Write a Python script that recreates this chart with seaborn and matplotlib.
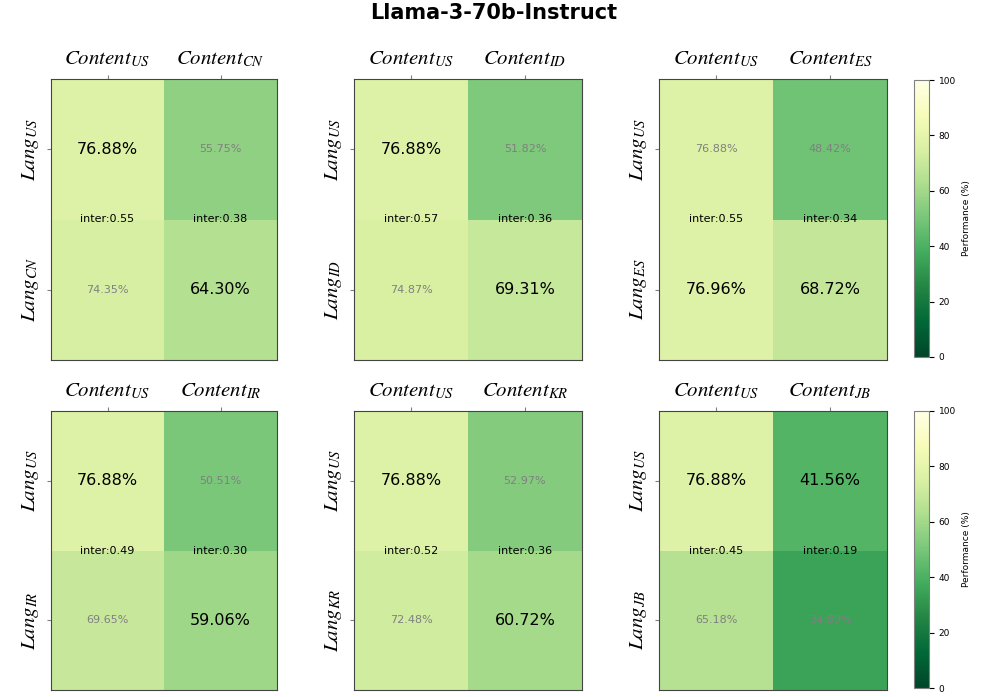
import numpy as np
import pandas as pd
import matplotlib
matplotlib.use("Agg")
import matplotlib.pyplot as plt
import seaborn as sns

# regions compared against US in each panel
regions = ["CN", "ID", "ES", "IR", "KR", "JB"]

# performance (%) [[LangUS-ContentUS, LangUS-ContentX], [LangX-ContentUS, LangX-ContentX]]
scores = {
    "CN": [[76.88, 55.75], [74.35, 64.30]],
    "ID": [[76.88, 51.82], [74.87, 69.31]],
    "ES": [[76.88, 48.42], [76.96, 68.72]],
    "IR": [[76.88, 50.51], [69.65, 59.06]],
    "KR": [[76.88, 52.97], [72.48, 60.72]],
    "JB": [[76.88, 41.56], [65.18, 34.89]],
}

# which cells are shown highlighted (True) or faded (False)
highlight = {
    "CN": [[True, False], [False, True]],
    "ID": [[True, False], [False, True]],
    "ES": [[False, False], [True, True]],
    "IR": [[True, False], [False, True]],
    "KR": [[True, False], [False, True]],
    "JB": [[True, True], [False, False]],
}

# intersection values [ContentUS column, ContentX column]
inter = {
    "CN": [0.55, 0.38],
    "ID": [0.57, 0.36],
    "ES": [0.55, 0.34],
    "IR": [0.49, 0.30],
    "KR": [0.52, 0.36],
    "JB": [0.45, 0.19],
}

plt.rcParams["mathtext.fontset"] = "stix"

fig = plt.figure(figsize=(9.88, 6.97), dpi=100)
fig.suptitle("Llama-3-70b-Instruct", fontsize=15, fontweight="bold", y=0.995)

W, H = 988, 697
col_x = [(51, 277), (354, 582), (659, 887)]
row_y = [(79, 360), (411, 690)]
cbar_y = [(80, 357), (411, 688)]

for i, reg in enumerate(regions):
    r, c = divmod(i, 3)
    x0, x1 = col_x[c]
    y0, y1 = row_y[r]
    ax = fig.add_axes([x0 / W, 1 - y1 / H, (x1 - x0) / W, (y1 - y0) / H])
    df = pd.DataFrame(scores[reg],
                      index=["US", reg], columns=["US", reg])
    sns.heatmap(df, ax=ax, cmap="YlGn_r", vmin=0, vmax=100, cbar=False, annot=False)
    for (a, b), v in np.ndenumerate(df.values):
        if highlight[reg][a][b]:
            ax.text(b + 0.5, a + 0.5, f"{v:.2f}%", ha="center", va="center",
                    fontsize=11.5, color="black")
        else:
            ax.text(b + 0.5, a + 0.5, f"{v:.2f}%", ha="center", va="center",
                    fontsize=8, color="gray")
    for b, v in enumerate(inter[reg]):
        ax.text(b + 0.5, 1.0, f"inter:{v:.2f}", ha="center", va="center",
                fontsize=8, color="black")
    ax.xaxis.tick_top()
    ax.set_xticklabels([r"$Content_{US}$", rf"$Content_{{{reg}}}$"], fontsize=15)
    ax.set_yticklabels([r"$Lang_{US}$", rf"$Lang_{{{reg}}}$"], fontsize=15,
                       rotation=90, va="center")
    ax.tick_params(length=3, color="gray", pad=4)
    ax.set_xlabel("")
    ax.set_ylabel("")
    for s in ax.spines.values():
        s.set_visible(True)
        s.set_color("#444444")
        s.set_linewidth(0.8)

    if c == 2:
        cy0, cy1 = cbar_y[r]
        cax = fig.add_axes([914 / W, 1 - cy1 / H, 15 / W, (cy1 - cy0) / H])
        sm = plt.cm.ScalarMappable(cmap="YlGn_r", norm=plt.Normalize(0, 100))
        cb = fig.colorbar(sm, cax=cax)
        cb.set_ticks([0, 20, 40, 60, 80, 100])
        cb.ax.tick_params(labelsize=6.5)
        cb.set_label("Performance (%)", fontsize=6.5)
        cb.outline.set_edgecolor("gray")

fig.savefig("out.png", dpi=100)
